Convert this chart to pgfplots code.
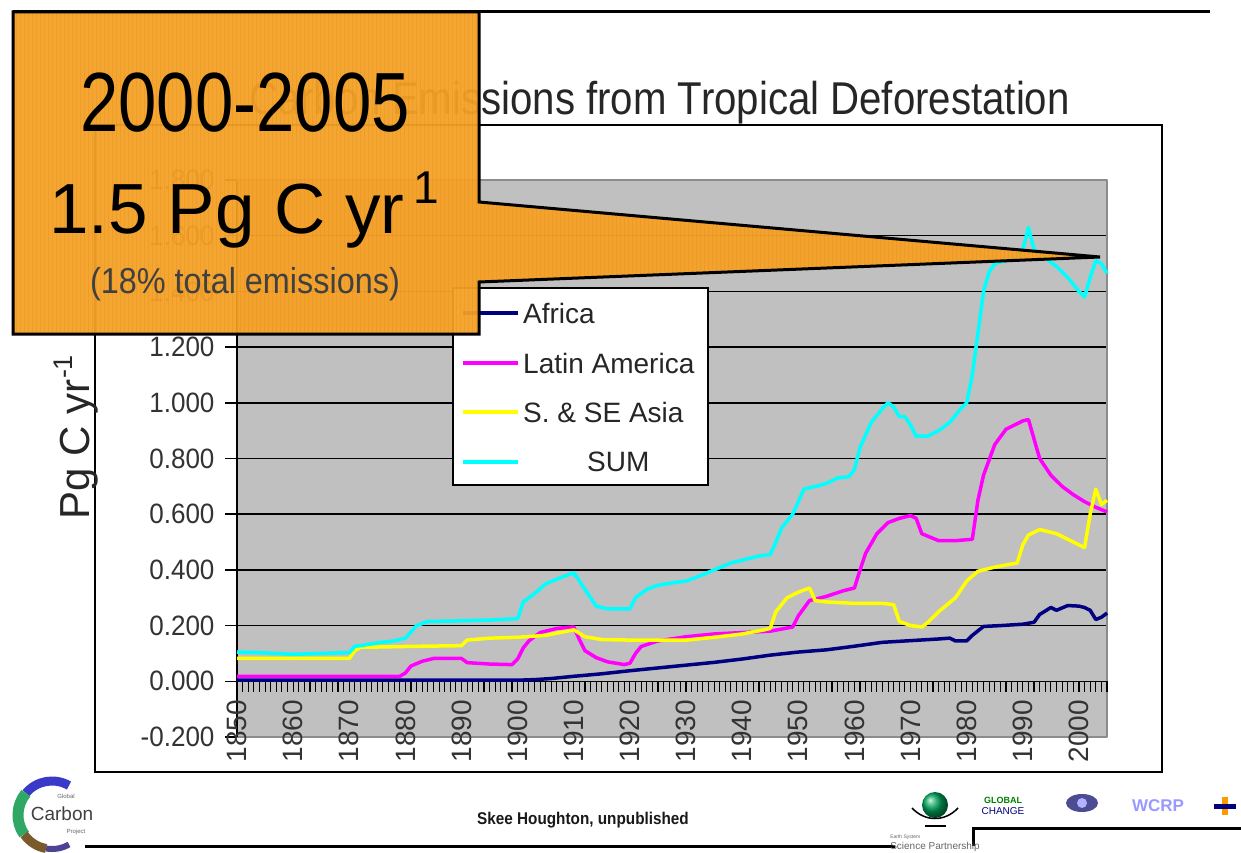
\documentclass[border=0pt]{standalone}
\usepackage{pgfplots}
\pgfplotsset{compat=1.18}
\usepackage{graphicx}
\usepackage{fontspec}
\setmainfont{Liberation Sans}

\definecolor{plotgrey}{HTML}{C0C0C0}
\definecolor{africa}{HTML}{000080}
\definecolor{latam}{HTML}{FF00FF}
\definecolor{asia}{HTML}{FFFF00}
\definecolor{sumc}{HTML}{00FFFF}
\definecolor{callout}{HTML}{F5A126}
\definecolor{calloutgrid}{HTML}{D9840E}
\definecolor{gcpblue}{HTML}{3A3AC8}
\definecolor{gcpgreen}{HTML}{2FA866}
\definecolor{gcpbrown}{HTML}{7A5A2A}

\begin{document}
\begin{tikzpicture}[x=1pt,y=-1pt]
\fill[white] (0,0) rectangle (1241,853);
\path[use as bounding box] (0,0) rectangle (1241,853);

% slide rule at the top
\draw[black, line width=3pt] (13,12) -- (1210,12);

% chart area frame
\draw[black, line width=1.5pt] (95,125) rectangle (1162,772);

% chart title
\node[anchor=base east, inner sep=0pt, text=black!85] at (1070,115)
  {\fontsize{46}{50}\selectfont\scalebox{0.874}[1]{Carbon Emissions from Tropical Deforestation}};

% y axis title
\node[rotate=90, inner sep=0pt, text=black!85] at (76,437)
  {\fontsize{42}{46}\selectfont Pg C yr\raisebox{0.42em}{\fontsize{27}{28}\selectfont -1}};

\begin{axis}[
  at={(237pt,-737pt)}, anchor=south west,
  scale only axis, width=870pt, height=557pt,
  xmin=1850, xmax=2005, ymin=-0.2, ymax=1.8,
  clip=false,
  axis background/.style={fill=plotgrey},
  axis line style={draw=black!45, line width=1.5pt},
  xtick=\empty,
  ytick={-0.2,0,0.2,0.4,0.6,0.8,1.0,1.2,1.4,1.6,1.8},
  ytick pos=left, tick align=outside, major tick length=12pt,
  every tick/.style={black, line width=1.5pt},
  ymajorgrids, major grid style={black, line width=1.5pt},
  yticklabel={\scalebox{0.93}[1]{\pgfmathprintnumber[fixed,fixed zerofill,precision=3,assume math mode=true]{\tick}}},
  yticklabel style={font=\fontsize{28}{30}\selectfont, text=black!80, xshift=-7pt},
  line join=round,
]
% category axis at zero with yearly tick marks
\draw[black, line width=1.5pt] (axis cs:1850,0) -- (axis cs:2005,0);
\pgfplotsinvokeforeach{1850,...,2005}{
  \draw[black, line width=1.1pt] (axis cs:#1,0) -- (axis cs:#1,-0.04);
}
\draw[black, line width=1.5pt] (axis cs:1850,-0.2) -- (axis cs:1850,1.8);
\pgfplotsinvokeforeach{1850,1860,...,2000}{
  \node[rotate=90, anchor=east, inner sep=0pt, text=black!80,
        font=\fontsize{28}{30}\selectfont] at (axis cs:#1,-0.066) {#1};
}

% Africa
\addplot[africa, line width=3.5pt] table {
1850 0.004
1900 0.004
1903 0.006
1906 0.010
1910 0.018
1915 0.027
1920 0.038
1925 0.048
1930 0.058
1935 0.068
1940 0.080
1945 0.094
1950 0.105
1955 0.113
1960 0.126
1965 0.140
1970 0.146
1975 0.152
1977 0.155
1978 0.145
1980 0.145
1981 0.165
1983 0.197
1986 0.200
1990 0.205
1992 0.212
1993 0.240
1995 0.265
1996 0.255
1998 0.272
2000 0.270
2001 0.265
2002 0.255
2003 0.222
2004 0.230
2005 0.245
};

% Latin America
\addplot[latam, line width=3.5pt] table {
1850 0.018
1879 0.018
1880 0.030
1881 0.055
1883 0.072
1885 0.082
1890 0.082
1891 0.067
1895 0.062
1899 0.060
1900 0.080
1901 0.120
1902 0.145
1904 0.175
1907 0.190
1910 0.195
1911 0.150
1912 0.110
1914 0.085
1916 0.070
1919 0.060
1920 0.065
1921 0.100
1922 0.125
1925 0.145
1930 0.160
1935 0.170
1940 0.175
1945 0.180
1949 0.195
1950 0.235
1952 0.290
1955 0.305
1958 0.325
1960 0.335
1961 0.400
1962 0.460
1964 0.530
1966 0.570
1968 0.585
1970 0.595
1971 0.585
1972 0.530
1975 0.505
1978 0.505
1981 0.510
1982 0.650
1983 0.740
1985 0.850
1987 0.905
1990 0.935
1991 0.940
1992 0.870
1993 0.800
1995 0.740
1997 0.700
1999 0.670
2001 0.645
2003 0.625
2005 0.608
};

% S. & SE Asia
\addplot[asia, line width=3.5pt] table {
1850 0.082
1870 0.082
1871 0.110
1872 0.122
1880 0.125
1890 0.128
1891 0.148
1895 0.155
1900 0.158
1905 0.165
1910 0.185
1912 0.160
1915 0.150
1920 0.148
1925 0.148
1930 0.148
1935 0.158
1940 0.170
1944 0.185
1945 0.190
1946 0.250
1948 0.300
1950 0.320
1952 0.335
1953 0.290
1955 0.285
1960 0.280
1965 0.280
1967 0.275
1968 0.215
1970 0.200
1972 0.195
1973 0.210
1975 0.250
1978 0.300
1980 0.360
1982 0.395
1985 0.410
1989 0.425
1990 0.490
1991 0.525
1993 0.545
1996 0.530
1998 0.510
2000 0.490
2001 0.480
2002 0.600
2003 0.690
2004 0.635
2005 0.650
};

% SUM
\addplot[sumc, line width=3.5pt] table {
1850 0.105
1855 0.102
1860 0.097
1865 0.100
1870 0.103
1871 0.126
1872 0.128
1875 0.138
1878 0.145
1880 0.155
1882 0.200
1884 0.215
1890 0.217
1895 0.220
1900 0.225
1901 0.285
1903 0.315
1905 0.350
1908 0.375
1910 0.390
1911 0.360
1913 0.300
1914 0.270
1916 0.260
1920 0.260
1921 0.300
1923 0.330
1925 0.345
1928 0.355
1930 0.360
1932 0.375
1935 0.400
1938 0.425
1940 0.435
1943 0.450
1945 0.455
1946 0.500
1947 0.550
1949 0.600
1951 0.690
1953 0.700
1955 0.710
1957 0.730
1959 0.735
1960 0.760
1961 0.840
1963 0.930
1965 0.980
1966 1.000
1967 0.985
1968 0.950
1969 0.950
1970 0.920
1971 0.880
1973 0.880
1975 0.900
1977 0.930
1979 0.980
1980 1.000
1981 1.100
1982 1.250
1983 1.400
1984 1.470
1985 1.500
1987 1.510
1989 1.520
1990 1.550
1991 1.630
1992 1.550
1994 1.520
1996 1.490
1998 1.450
2000 1.400
2001 1.380
2002 1.450
2003 1.510
2004 1.500
2005 1.465
};
\end{axis}

% legend
\draw[black, line width=1.5pt, fill=white] (453,288) rectangle (708,485);
\draw[africa, line width=3.5pt] (463,313) -- (518,313);
\draw[latam, line width=3.5pt] (463,363) -- (518,363);
\draw[asia, line width=3.5pt] (463,412) -- (518,412);
\draw[sumc, line width=3.5pt] (463,462) -- (518,462);
\begin{scope}[every node/.style={anchor=west, inner sep=0pt, text=black!85, font=\fontsize{28}{30}\selectfont}]
\node at (523,313) {Africa};
\node at (523,363) {Latin America};
\node at (523,412) {S. \& SE Asia};
\node at (587,462) {SUM};
\end{scope}

% callout box with its pointer
\def\calloutpath{(13,12) -- (479,12) -- (479,202) -- (1100,257) -- (479,282) -- (479,334) -- (13,334) -- cycle}
\fill[callout, fill opacity=0.95] \calloutpath;
\begin{scope}
  \clip \calloutpath;
  \draw[calloutgrid, line width=0.5pt, opacity=0.22] (10,10) grid[step=4] (1105,340);
\end{scope}
\draw[black, line width=3pt, line join=miter] \calloutpath;

\node[anchor=base, inner sep=0pt] at (245,132)
  {\fontsize{84}{90}\selectfont\scalebox{0.82}[1]{2000-2005}};
\node[anchor=base, inner sep=0pt] at (244,233)
  {\fontsize{71}{76}\selectfont 1.5 Pg C yr\hspace{0.12em}\raisebox{0.42em}{\fontsize{46}{48}\selectfont 1}};
\node[anchor=base, inner sep=0pt, text=black!75] at (245,293)
  {\fontsize{36}{40}\selectfont\scalebox{0.9}[1]{(18\% total emissions)}};

% footer
\draw[black, line width=3pt] (85,846) -- (895,846);
\draw[black, line width=3pt] (973,846) -- (973,828) -- (1241,828);
\node[inner sep=0pt, text=black!90] at (583,820)
  {\fontsize{17}{19}\selectfont\bfseries\scalebox{0.9}[1]{Skee Houghton, unpublished}};

% Global Carbon Project mark (y grows downward here, so angles run clockwise)
\draw[gcpblue, line width=9pt] (52,815) ++(220:34) arc[start angle=220, end angle=300, radius=34];
\draw[gcpgreen, line width=11pt] (52,815) ++(145:34) arc[start angle=145, end angle=220, radius=34];
\draw[gcpbrown, line width=9pt] (52,815) ++(100:34) arc[start angle=100, end angle=145, radius=34];
\draw[gcpblue!70!gcpbrown, line width=6pt] (52,815) ++(60:34) arc[start angle=60, end angle=100, radius=34];
\node[inner sep=0pt, text=black!60] at (66,796) {\fontsize{6}{7}\selectfont Global};
\node[inner sep=0pt, text=black!75] at (62,814) {\fontsize{19}{20}\selectfont Carbon};
\node[inner sep=0pt, text=black!60] at (76,832) {\fontsize{6}{7}\selectfont Project};

% partner marks
\shade[ball color=teal!70!green] (935,805) circle (13);
\draw[black, line width=1.5pt] (912,808) .. controls (925,822) and (945,822) .. (958,808);
\draw[black, line width=1.5pt] (925,826) -- (946,826);
\node[inner sep=0pt, text=black!60, align=left] at (935,843)
  {\fontsize{5}{5.5}\selectfont Earth System\\[-1pt]Science Partnership};
\node[inner sep=0pt, text=green!50!black, align=center] at (1003,806)
  {\fontsize{9}{9}\selectfont\bfseries GLOBAL\\[-1pt]\textcolor{blue!50!black}{CHANGE}};
\fill[blue!40!black, opacity=0.7] (1082,803) ellipse (16 and 9);
\fill[blue!30!white] (1082,803) circle (5);
\node[inner sep=0pt, text=blue!40!white] at (1158,806)
  {\fontsize{17}{18}\selectfont\bfseries WCRP};
\fill[orange!80!yellow] (1222,797) rectangle (1228,815);
\fill[blue!50!black] (1214,804) rectangle (1236,809);
\end{tikzpicture}
\end{document}
